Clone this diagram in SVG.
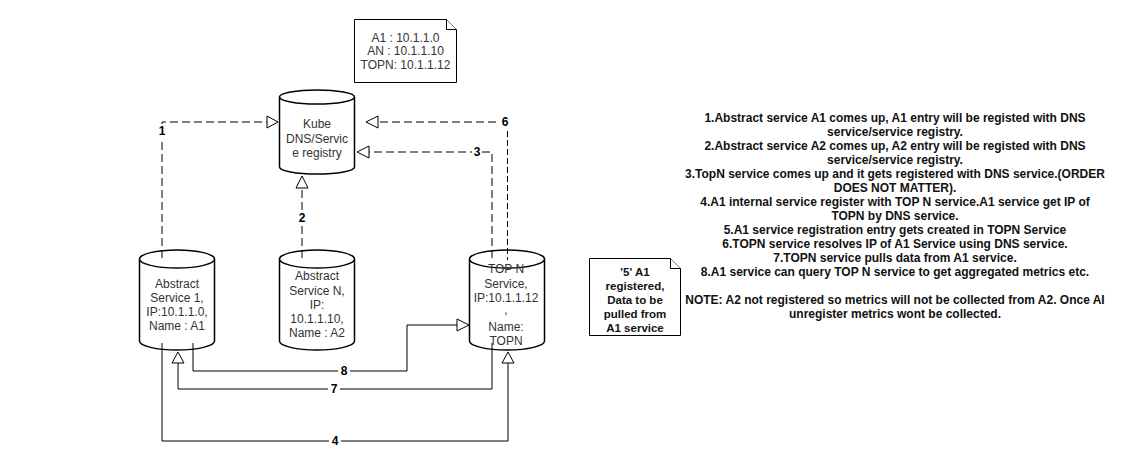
<svg xmlns="http://www.w3.org/2000/svg" width="1128" height="468" viewBox="0 0 1128 468">
<style>
.cyl{fill:#fff;stroke:#000;stroke-width:1.5}
.ctext{font-family:"Liberation Sans",Arial,sans-serif;font-size:12px;fill:#333;text-anchor:middle;dominant-baseline:central}
.note{fill:#fff;stroke:#000;stroke-width:1}
.ntext{font-family:"Liberation Sans",Arial,sans-serif;font-size:12px;fill:#333;text-anchor:middle;dominant-baseline:central}
.btext{font-family:"Liberation Sans",Arial,sans-serif;font-size:11.5px;font-weight:bold;fill:#111;text-anchor:middle;dominant-baseline:central}
.stext{font-family:"Liberation Sans",Arial,sans-serif;font-size:12px;font-weight:bold;fill:#111;text-anchor:middle;dominant-baseline:central}
.edge{fill:none;stroke:#000;stroke-width:1}
.dash{stroke-dasharray:8 4}
.thin{fill:none;stroke:#000;stroke-width:1;stroke-dasharray:6 3}
.head{fill:#fff;stroke:#000;stroke-width:1}
.lbl{font-family:"Liberation Sans",Arial,sans-serif;font-size:12px;font-weight:bold;fill:#000;text-anchor:middle;dominant-baseline:central}
.lbg{fill:#fff}
</style>

<g id="note-ips">
<path class="note" d="M354.5,19.5 H446.5 L456.5,29.5 V82.5 H354.5 Z"/>
<path class="note" d="M446.5,19.5 V29.5 H456.5" fill="none"/>
<text class="ntext" x="405.5" y="38">A1 : 10.1.1.0</text>
<text class="ntext" x="405.5" y="51">AN : 10.1.1.10</text>
<text class="ntext" x="405.5" y="64.5">TOPN: 10.1.1.12</text>
</g>

<g id="kube-dns">
<path class="cyl" d="M279.5,97 A37.5,7 0 0 1 354.5,97 V167 A37.5,7 0 0 1 279.5,167 Z"/>
<path class="cyl" d="M279.5,97 A37.5,7 0 0 0 354.5,97" fill="none"/>
<text class="ctext" x="317" y="123.5">Kube</text>
<text class="ctext" x="317" y="138.5">DNS/Servic</text>
<text class="ctext" x="317" y="153">e registry</text>
</g>

<g id="abstract-service-1">
<path class="cyl" d="M139.5,259 A37.5,9 0 0 1 214.5,259 V341 A37.5,9 0 0 1 139.5,341 Z"/>
<path class="cyl" d="M139.5,259 A37.5,9 0 0 0 214.5,259" fill="none"/>
<text class="ctext" x="177" y="283.5">Abstract</text>
<text class="ctext" x="177" y="297.5">Service 1,</text>
<text class="ctext" x="177" y="311.5">IP:10.1.1.0,</text>
<text class="ctext" x="177" y="325.5">Name : A1</text>
</g>

<g id="abstract-service-n">
<path class="cyl" d="M279.5,259 A37.5,9 0 0 1 354.5,259 V341 A37.5,9 0 0 1 279.5,341 Z"/>
<path class="cyl" d="M279.5,259 A37.5,9 0 0 0 354.5,259" fill="none"/>
<text class="ctext" x="317" y="276">Abstract</text>
<text class="ctext" x="317" y="290.5">Service N,</text>
<text class="ctext" x="317" y="305">IP:</text>
<text class="ctext" x="317" y="319">10.1.1.10,</text>
<text class="ctext" x="317" y="333">Name : A2</text>
</g>

<g id="topn-service">
<path class="cyl" d="M469.5,259 A37.5,9 0 0 1 544.5,259 V341 A37.5,9 0 0 1 469.5,341 Z"/>
<path class="cyl" d="M469.5,259 A37.5,9 0 0 0 544.5,259" fill="none"/>
<text class="ctext" x="506" y="269">TOP N</text>
<text class="ctext" x="506" y="283.5">Service,</text>
<text class="ctext" x="506" y="298">IP:10.1.1.12</text>
<text class="ctext" x="506" y="310">,</text>
<text class="ctext" x="506" y="326.5">Name:</text>
<text class="ctext" x="506" y="341">TOPN</text>
</g>

<g id="note-5">
<path class="note" d="M589.5,258.5 H670.5 L680.5,268.5 V335.5 H589.5 Z"/>
<path class="note" d="M670.5,258.5 V268.5 H680.5" fill="none"/>
<text class="btext" x="635" y="271.5">'5' A1</text>
<text class="btext" x="635" y="285.5">registered,</text>
<text class="btext" x="635" y="299.5">Data to be</text>
<text class="btext" x="635" y="313.5">pulled from</text>
<text class="btext" x="635" y="327.5">A1 service</text>
</g>

<g id="steps-text">
<text class="stext" x="895" y="118">1.Abstract service A1 comes up, A1 entry will be registed with DNS</text>
<text class="stext" x="895" y="132">service/service registry.</text>
<text class="stext" x="895" y="146">2.Abstract service A2 comes up, A2 entry will be registed with DNS</text>
<text class="stext" x="895" y="160">service/service registry.</text>
<text class="stext" x="895" y="174">3.TopN service comes up and it gets registered with DNS service.(ORDER</text>
<text class="stext" x="895" y="188">DOES NOT MATTER).</text>
<text class="stext" x="895" y="202">4.A1 internal service register with TOP N service.A1 service get IP of</text>
<text class="stext" x="895" y="216">TOPN by DNS service.</text>
<text class="stext" x="895" y="230">5.A1 service registration entry gets created in TOPN Service</text>
<text class="stext" x="895" y="244">6.TOPN service resolves IP of A1 Service using DNS service.</text>
<text class="stext" x="895" y="258">7.TOPN service pulls data from A1 service.</text>
<text class="stext" x="895" y="272">8.A1 service can query TOP N service to get aggregated metrics etc.</text>
<text class="stext" x="895" y="300">NOTE: A2 not registered so metrics will not be collected from A2. Once AI</text>
<text class="stext" x="895" y="314">unregister metrics wont be collected.</text>
</g>

<g id="connectors">
<path class="edge dash" d="M162,258 V122 H267"/>
<path class="head" d="M267,116 L278,122 L267,128 Z"/>
<path class="edge dash" d="M302,258 V188"/>
<path class="head" d="M296,188 L302,176 L308,188 Z"/>
<path class="edge dash" d="M492,258 V152 H369"/>
<path class="head" d="M369,146 L357,152 L369,158 Z"/>
<path class="edge dash" d="M508,122 H378"/>
<path class="head" d="M378,116 L366,122 L378,128 Z"/>
<path class="thin" d="M507.5,131 V260"/>
<path class="edge" d="M193,343 V371 H407 V325 H457"/>
<path class="head" d="M457,319 L469,325 L457,331 Z"/>
<path class="edge" d="M492,343 V389 H178 V363"/>
<path class="head" d="M172,363 L178,352 L184,363 Z"/>
<path class="edge" d="M162,343 V441 H508 V363"/>
<path class="head" d="M502,363 L508,352 L514,363 Z"/>
<rect class="lbg" x="157" y="124" width="10" height="14"/>
<text class="lbl" x="162" y="131">1</text>
<rect class="lbg" x="297" y="211" width="10" height="14"/>
<text class="lbl" x="302" y="218">2</text>
<rect class="lbg" x="472" y="145" width="10" height="14"/>
<text class="lbl" x="477" y="152">3</text>
<rect class="lbg" x="500" y="115" width="10" height="14"/>
<text class="lbl" x="505" y="122">6</text>
<rect class="lbg" x="338" y="364" width="12" height="14"/>
<text class="lbl" x="344" y="371">8</text>
<rect class="lbg" x="328" y="382" width="12" height="14"/>
<text class="lbl" x="334" y="389">7</text>
<rect class="lbg" x="329" y="434" width="12" height="14"/>
<text class="lbl" x="335" y="441">4</text>
</g>
</svg>
